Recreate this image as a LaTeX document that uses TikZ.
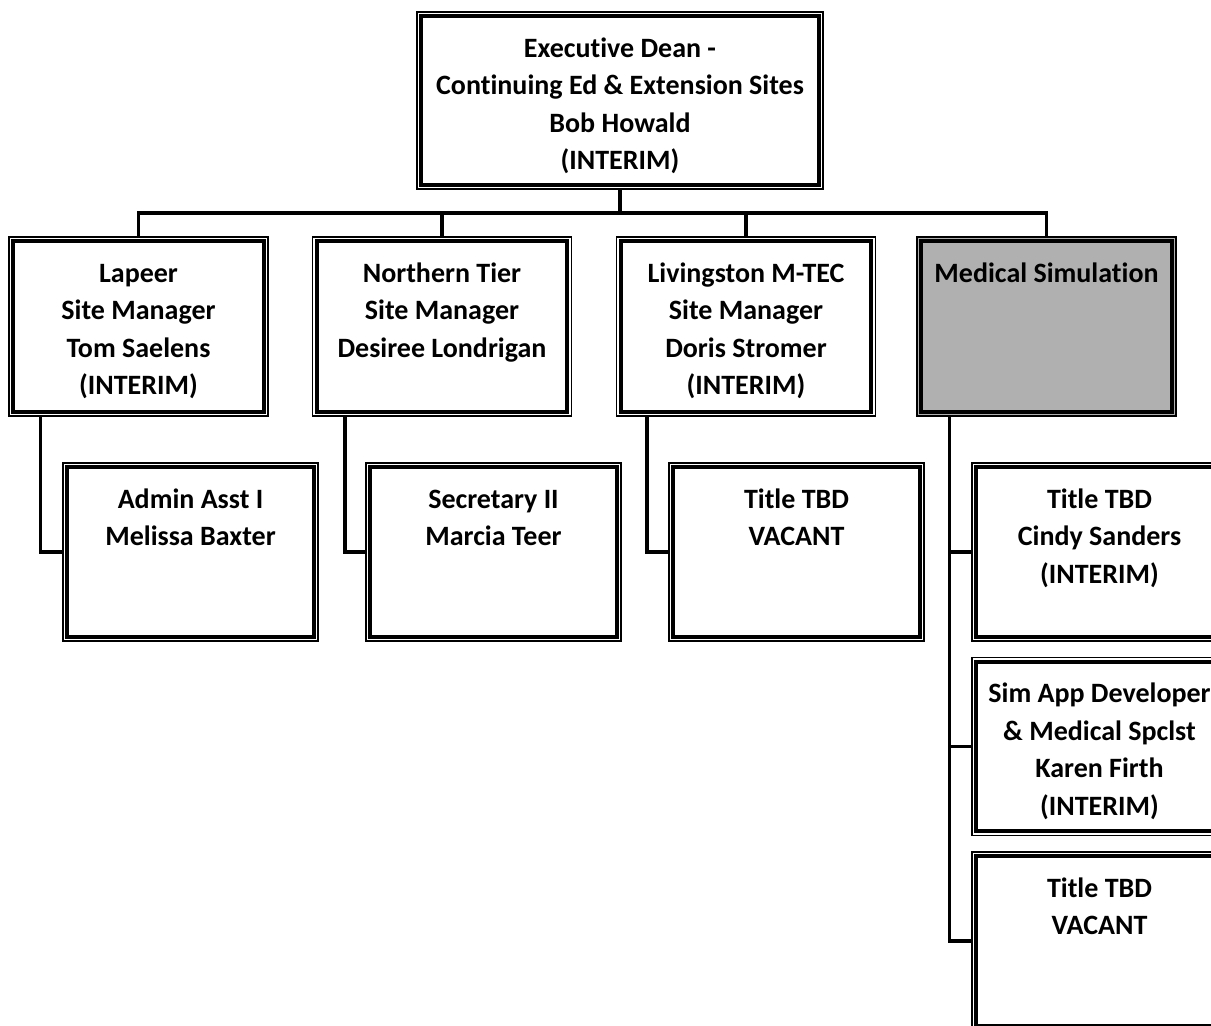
\documentclass[tikz,border=0pt]{standalone}
\usepackage{fontspec}
\setmainfont{Carlito}[Ligatures=CommonOff]

\definecolor{simgray}{RGB}{176,176,176}

\tikzstyle{unit} = [draw,
    line width=1.3pt,
    fill=white,
    inner sep=0pt,
    font=\bfseries\fontsize{28}{37.5}\selectfont]
\tikzstyle{shaded} = [unit,
    fill=simgray]
\tikzstyle{link} = [line width=3.6pt]
\tikzstyle{inner} = [line width=4pt]

\newcommand{\orgtext}[3]{\parbox[c][#2][t]{#1}{\centering\vspace*{19pt}\strut#3}}

\begin{document}
\begin{tikzpicture}[x=1pt,y=-1pt]
            \useasboundingbox (0,0) rectangle (1211,1026);
            \clip (0,0) rectangle (1211,1026);
            % top
            \node (dean) [unit] at (620,100.5) {\orgtext{406pt}{177pt}{Executive Dean -\\Continuing Ed \& Extension Sites\\Bob Howald\\(INTERIM)}};
            % sites
            \node (lapeer) [unit] at (138.5,326.5) {\orgtext{259pt}{179pt}{Lapeer\\Site Manager\\Tom Saelens\\(INTERIM)}};
            \node (north) [unit] at (442,326.5) {\orgtext{259pt}{179pt}{Northern Tier\\Site Manager\\Desiree Londrigan}};
            \node (living) [unit] at (746,326.5) {\orgtext{259pt}{179pt}{Livingston M-TEC\\Site Manager\\Doris Stromer\\(INTERIM)}};
            \node (medsim) [shaded] at (1046.5,326.5) {\orgtext{259pt}{179pt}{Medical Simulation}};
            % staff
            \node (admin) [unit] at (190.5,552) {\orgtext{255pt}{178pt}{Admin Asst I\\Melissa Baxter}};
            \node (secr) [unit] at (493.5,552) {\orgtext{255pt}{178pt}{Secretary II\\Marcia Teer}};
            \node (tbdliv) [unit] at (796.5,552) {\orgtext{255pt}{178pt}{Title TBD\\VACANT}};
            \node (cindy) [unit] at (1099.5,552) {\orgtext{255pt}{178pt}{Title TBD\\Cindy Sanders\\(INTERIM)}};
            \node (karen) [unit] at (1099.5,746.5) {\orgtext{255pt}{178pt}{Sim App Developer\\\& Medical Spclst\\Karen Firth\\(INTERIM)}};
            \node (tbdmed) [unit] at (1099.5,941) {\orgtext{255pt}{178pt}{Title TBD\\VACANT}};
            % double frames
            \foreach \n in {dean,lapeer,north,living,medsim,admin,secr,tbdliv,cindy,karen,tbdmed}
                \draw [inner] ([shift={(5pt,-5pt)}]\n.north west) rectangle ([shift={(-5pt,5pt)}]\n.south east);
            % lines
            \coordinate (bus) at (620,213);
            \coordinate (meddrop) at ([xshift=33pt]medsim.south west);
            \draw [link] (dean.south) -- (bus);
            \draw [link] (bus) -| (lapeer.north);
            \draw [link] (bus) -| (north.north);
            \draw [link] (bus) -| (living.north);
            \draw [link] (bus) -| (medsim.north);
            \draw [link] ([xshift=32pt]lapeer.south west) |- (admin.west);
            \draw [link] ([xshift=33pt]north.south west) |- (secr.west);
            \draw [link] ([xshift=31pt]living.south west) |- (tbdliv.west);
            \draw [link] (meddrop) |- (tbdmed.west);
            \draw [link] (cindy.west) -- (cindy.west -| meddrop);
            \draw [link] (karen.west) -- (karen.west -| meddrop);
        \end{tikzpicture}
\end{document}
